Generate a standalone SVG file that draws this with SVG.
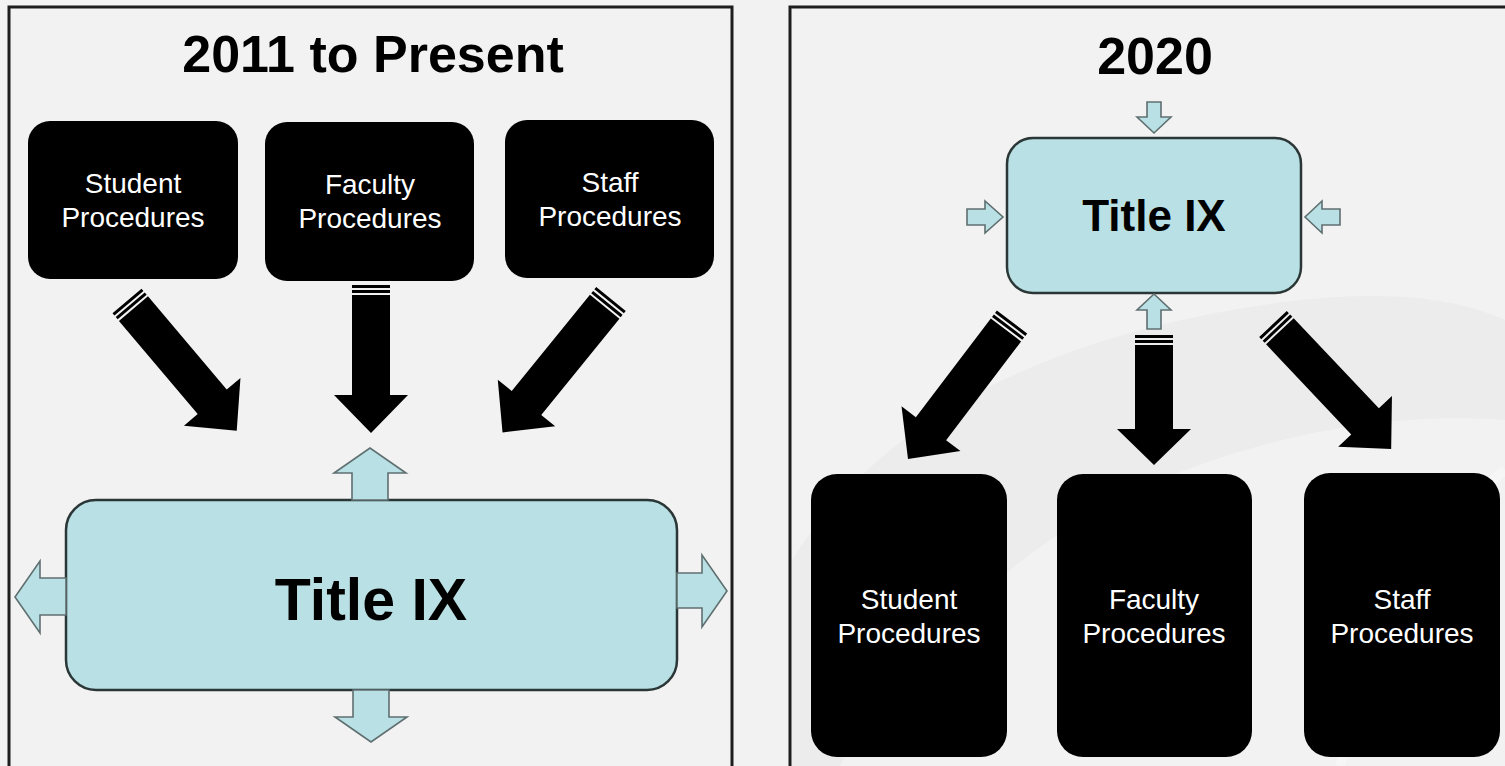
<svg xmlns="http://www.w3.org/2000/svg" width="1505" height="766" viewBox="0 0 1505 766">
<style>
.panel{fill:#f2f2f2;stroke:#1e1e1e;stroke-width:3}
.bbox{fill:#000}
.btxt{fill:#fff;font-family:"Liberation Sans",Arial,sans-serif;font-size:28px;text-anchor:middle}
.title{fill:#000;font-family:"Liberation Sans",Arial,sans-serif;font-weight:bold;text-anchor:middle}
.tbox{fill:#b9e0e4;stroke:#2b3636;stroke-width:2.5}
.barrow{fill:#b9e0e4;stroke:#5f6f70;stroke-width:1.6;stroke-linejoin:miter}
.karrow{fill:#000}
</style>
<defs>
<path id="a170" d="M0,-19h3v38h-3z M5,-19h3v38h-3z M10,-19H132V-37L170,0L132,37V19H10z"/>
<path id="a172" d="M0,-19h3v38h-3z M5,-19h3v38h-3z M10,-19H134V-37L172,0L134,37V19H10z"/>
<path id="a148" d="M0,-19h3v38h-3z M5,-19h3v38h-3z M10,-19H110V-37L148,0L110,37V19H10z"/>
<path id="a130" d="M0,-19h3v38h-3z M5,-19h3v38h-3z M10,-19H94V-37L130,0L94,37V19H10z"/>
</defs>
<rect width="1505" height="766" fill="#f2f2f2"/>

<g id="panel-left">
<rect class="panel" x="9" y="7" width="723" height="800"/>
<text class="title" x="373" y="72" font-size="52">2011 to Present</text>
</g>
<g id="panel-right">
<rect class="panel" x="790" y="7" width="740" height="800"/>
<path d="M792,560 C880,420 1050,330 1300,300 C1400,290 1460,300 1505,320 L1505,420 C1380,410 1200,440 1050,540 C950,610 880,690 840,766 L792,766 Z" fill="#ececec"/>
<path d="M1340,766 C1380,620 1440,520 1505,470" fill="none" stroke="#f6f6f6" stroke-width="10"/>
<text class="title" x="1155" y="74" font-size="52">2020</text>
</g>

<g id="left-student">
<rect class="bbox" x="28" y="121" width="210" height="158" rx="22"/>
<text class="btxt" x="133" y="193">Student</text>
<text class="btxt" x="133" y="227">Procedures</text>
</g>
<g id="left-faculty">
<rect class="bbox" x="265" y="122" width="209" height="159" rx="22"/>
<text class="btxt" x="370" y="194">Faculty</text>
<text class="btxt" x="370" y="228">Procedures</text>
</g>
<g id="left-staff">
<rect class="bbox" x="505" y="120" width="209" height="158" rx="22"/>
<text class="btxt" x="610" y="192">Staff</text>
<text class="btxt" x="610" y="226">Procedures</text>
</g>
<g id="left-titleix">
<rect class="tbox" x="66" y="500" width="611" height="190" rx="30"/>
<text class="title" x="371" y="620" font-size="59">Title IX</text>
</g>

<g id="right-titleix">
<rect class="tbox" x="1007" y="138" width="294" height="155" rx="26"/>
<text class="title" x="1154" y="231" font-size="44">Title IX</text>
</g>
<g id="right-student">
<rect class="bbox" x="811" y="474" width="196" height="283" rx="26"/>
<text class="btxt" x="909" y="609">Student</text>
<text class="btxt" x="909" y="643">Procedures</text>
</g>
<g id="right-faculty">
<rect class="bbox" x="1057" y="474" width="195" height="283" rx="26"/>
<text class="btxt" x="1154" y="609">Faculty</text>
<text class="btxt" x="1154" y="643">Procedures</text>
</g>
<g id="right-staff">
<rect class="bbox" x="1304" y="473" width="196" height="284" rx="26"/>
<text class="btxt" x="1402" y="609">Staff</text>
<text class="btxt" x="1402" y="643">Procedures</text>
</g>

<g id="connectors">
<use href="#a170" class="karrow" transform="translate(127,301) rotate(49.8)"/>
<use href="#a148" class="karrow" transform="translate(371,285) rotate(90)"/>
<use href="#a172" class="karrow" transform="translate(611,299) rotate(129.1)"/>
<use href="#a172" class="karrow" transform="translate(1012,322) rotate(127.2)"/>
<use href="#a130" class="karrow" transform="translate(1154,335) rotate(90)"/>
<use href="#a172" class="karrow" transform="translate(1273,324) rotate(46.6)"/>

<polygon class="barrow" points="352,500 352,473 334,473 370,448 406,473 388,473 388,500"/>
<polygon class="barrow" points="353,690 389,690 389,717 407,717 371,742 335,717 353,717"/>
<polygon class="barrow" points="66,578 40,578 40,561 15,597 40,633 40,615 66,615"/>
<polygon class="barrow" points="677,573 702,573 702,555 727,591 702,627 702,608 677,608"/>

<polygon class="barrow" points="1147,102 1161,102 1161,117 1171,117 1154,133 1137,117 1147,117"/>
<polygon class="barrow" points="1147,329 1161,329 1161,310 1171,310 1154,294 1137,310 1147,310"/>
<polygon class="barrow" points="967,209 985,209 985,201 1003,217 985,233 985,225 967,225"/>
<polygon class="barrow" points="1340,209 1322,209 1322,201 1305,217 1322,233 1322,225 1340,225"/>
</g>
</svg>
